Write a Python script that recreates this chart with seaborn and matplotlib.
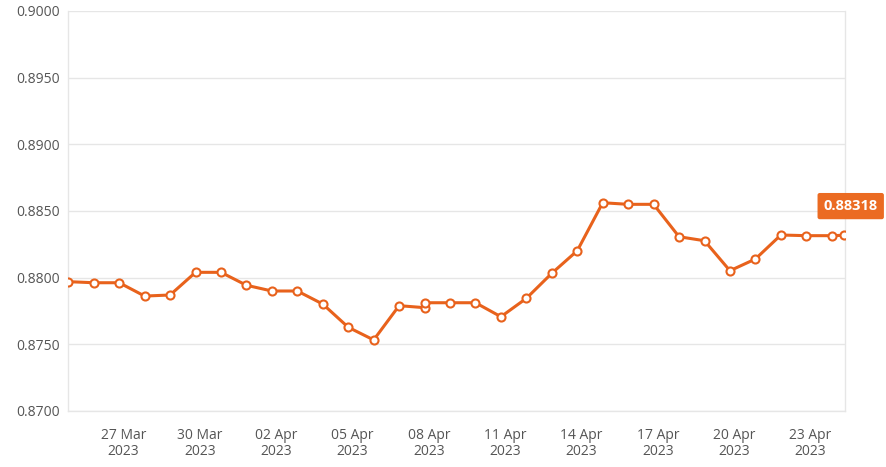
import matplotlib
matplotlib.use("Agg")
import matplotlib.pyplot as plt
import matplotlib.dates as mdates
import seaborn as sns
import pandas as pd

# ---- data ----
timestamps = [
    "2023-03-24 20:00", "2023-03-25 20:00", "2023-03-26 20:00", "2023-03-27 20:00",
    "2023-03-28 20:00", "2023-03-29 20:00", "2023-03-30 20:00", "2023-03-31 20:00",
    "2023-04-01 20:00", "2023-04-02 20:00", "2023-04-03 20:00", "2023-04-04 20:00",
    "2023-04-05 20:00", "2023-04-06 20:00", "2023-04-07 20:00", "2023-04-07 20:00",
    "2023-04-08 20:00", "2023-04-09 20:00", "2023-04-10 20:00", "2023-04-11 20:00",
    "2023-04-12 20:00", "2023-04-13 20:00", "2023-04-14 20:00", "2023-04-15 20:00",
    "2023-04-16 20:00", "2023-04-17 20:00", "2023-04-18 20:00", "2023-04-19 20:00",
    "2023-04-20 20:00", "2023-04-21 20:00", "2023-04-22 20:00", "2023-04-23 20:00",
    "2023-04-24 08:00",
]
rates = [
    0.87970, 0.87962, 0.87962, 0.87862, 0.87870, 0.88040, 0.88040, 0.87943,
    0.87900, 0.87900, 0.87802, 0.87628, 0.87533, 0.87790, 0.87775, 0.87812,
    0.87812, 0.87812, 0.87707, 0.87845, 0.88033, 0.88202, 0.88562, 0.88550,
    0.88550, 0.88307, 0.88277, 0.88052, 0.88140, 0.88320, 0.88315, 0.88315,
    0.88318,
]
tick_dates = ["2023-03-27", "2023-03-30", "2023-04-02", "2023-04-05", "2023-04-08",
              "2023-04-11", "2023-04-14", "2023-04-17", "2023-04-20", "2023-04-23"]
y_ticks = [0.8700, 0.8750, 0.8800, 0.8850, 0.8900, 0.8950, 0.9000]
last_label = "0.88318"

df = pd.DataFrame({"time": pd.to_datetime(timestamps), "rate": rates})

sns.set_style("white")
plt.rcParams["font.family"] = ["Open Sans", "DejaVu Sans"]

ORANGE = "#E8621C"
GRID = "#E6E6E6"
TXT = "#555555"

fig = plt.figure(figsize=(8.86, 4.67), dpi=100)
ax = fig.add_axes([68.3 / 886, 56 / 467, (845 - 68.3) / 886, 400 / 467])

sns.lineplot(data=df, x="time", y="rate", ax=ax, estimator=None, sort=False,
             color=ORANGE, linewidth=2.2, marker="o", markersize=5.8,
             markerfacecolor="white", markeredgecolor=ORANGE, markeredgewidth=1.5,
             zorder=3)

ax.set_xlim(pd.Timestamp("2023-03-24 20:00"), pd.Timestamp("2023-04-24 08:30"))
ax.set_ylim(0.8700, 0.9000)
ax.set_yticks(y_ticks)
ax.set_yticklabels([f"{v:.4f}" for v in y_ticks])
ax.grid(axis="y", color=GRID, linewidth=1.0)
ax.set_axisbelow(True)

xt = pd.to_datetime(tick_dates)
ax.set_xticks(xt)
ax.set_xticklabels([d.strftime("%d %b\n%Y") for d in xt])

ax.tick_params(axis="x", colors=ORANGE, length=8, width=1.3, direction="out",
               labelcolor=TXT, labelsize=10, pad=4)
ax.tick_params(axis="y", length=0, labelcolor=TXT, labelsize=10, pad=6)
for lbl in ax.get_xticklabels():
    lbl.set_linespacing(1.1)

ax.set_xlabel("")
ax.set_ylabel("")
for side in ["left", "bottom", "right"]:
    ax.spines[side].set_color(GRID)
    ax.spines[side].set_linewidth(1.0)
ax.spines["top"].set_visible(False)

ax.annotate(last_label, xy=(df["time"].iloc[-1], df["rate"].iloc[-1]),
            xytext=(4.5, 21), textcoords="offset points",
            ha="center", va="center", color="white", fontsize=10.5, fontweight="bold",
            bbox=dict(boxstyle="round,pad=0.42,rounding_size=0.15",
                      facecolor="#EB6B22", edgecolor="none"),
            annotation_clip=False, zorder=5)

fig.savefig("out.png", dpi=100)
